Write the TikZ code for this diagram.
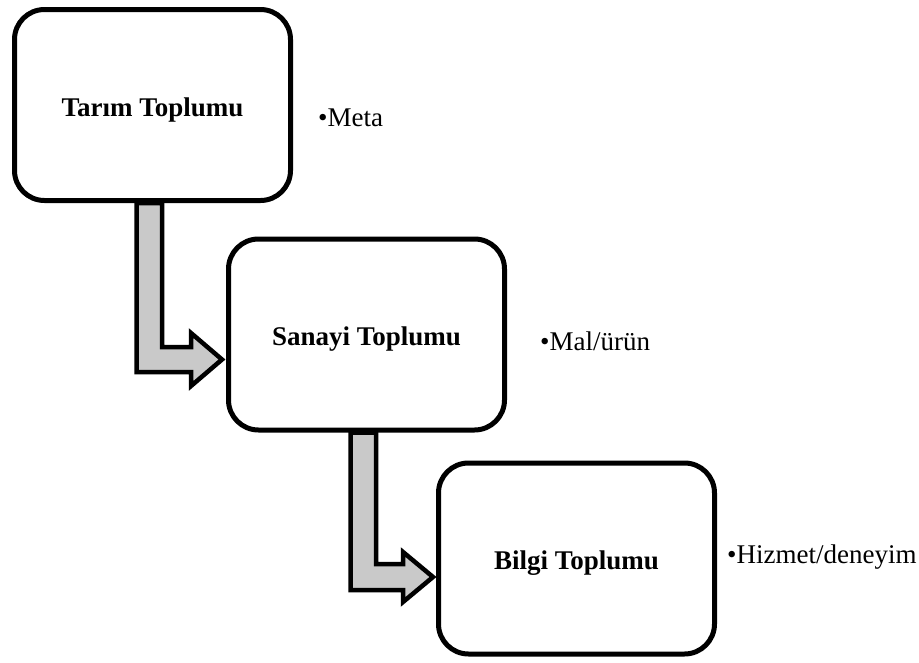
\documentclass[tikz,border=0pt]{standalone}
\usepackage{fontspec}
\setmainfont{Liberation Serif}
\usetikzlibrary{calc}
\pgfdeclarelayer{behind}
\pgfsetlayers{behind,main}
\begin{document}
\begin{tikzpicture}[x=1pt,y=1pt,
  stagebox/.style={draw=black,line width=5pt,fill=white,rounded corners=30pt,
    minimum width=276pt,minimum height=191pt,inner sep=0pt,
    text height=22pt,text depth=0pt,
    font=\fontsize{27}{31}\selectfont\bfseries},
  note/.style={anchor=base west,inner sep=0pt,font=\fontsize{27}{31}\selectfont},
  flow/.style={draw=black,line width=4.5pt,fill=black!21,line join=miter}]
\useasboundingbox (0,0) rectangle (919,-662);

\node[stagebox] (b1) at (152.5,-105) {Tarım Toplumu};
\node[stagebox] (b2) at (366.5,-334.5) {Sanayi Toplumu};
\node[stagebox] (b3) at (576.5,-558.5) {Bilgi Toplumu};

% bent block arrows between the stages, kept behind the boxes
\begin{pgfonlayer}{behind}
\path[flow] let \p1=(b1.south), \p2=(b2.west) in
  (\x1-16,\y1) -- (\x1-16,\y2-37.5) -- (\x2-35,\y2-37.5) -- (\x2-35,\y2-51.5)
  -- (\x2-4,\y2-25) -- (\x2-35,\y2+1.5) -- (\x2-35,\y2-12.5)
  -- (\x1+9.5,\y2-12.5) -- (\x1+9.5,\y1) -- cycle;
\path[flow] let \p1=(b2.south), \p2=(b3.west) in
  (\x1-16,\y1) -- (\x1-16,\y2-31.5) -- (\x2-33,\y2-31.5) -- (\x2-33,\y2-43.5)
  -- (\x2-3,\y2-18.5) -- (\x2-33,\y2+6.5) -- (\x2-33,\y2-5.5)
  -- (\x1+9.5,\y2-5.5) -- (\x1+9.5,\y1) -- cycle;
\end{pgfonlayer}

\node[note] (n1) at (318,-126) {•Meta};
\node[note] (n2) at (540,-350) {•Mal/ürün};
\node[note] (n3) at (727,-563) {•Hizmet/deneyim};
\end{tikzpicture}
\end{document}
